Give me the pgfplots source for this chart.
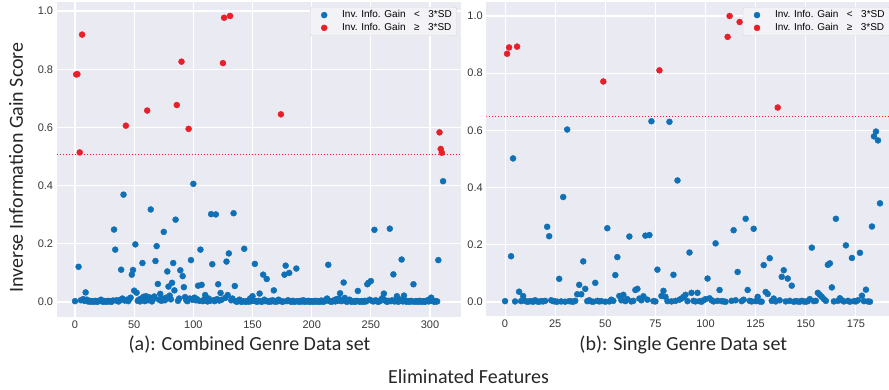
\documentclass[border=0pt]{standalone}
\usepackage{fontspec}
\setmainfont{Liberation Sans}
\newfontfamily\labfont{Carlito}
\usepackage{pgfplots}
\pgfplotsset{compat=1.18}
\definecolor{bgc}{HTML}{EAEAF2}
\definecolor{cblue}{RGB}{14,112,182}
\definecolor{cred}{RGB}{232,30,40}
\definecolor{legbg}{HTML}{F3F3F7}
\definecolor{legdr}{HTML}{D4D4DA}
\definecolor{tickc}{HTML}{363636}
\pgfplotsset{
  sbstyle/.style={
    scale only axis,
    axis background/.style={fill=bgc},
    axis line style={draw=none},
    major tick style={draw=none},
    grid=major,
    major grid style={white, line width=1.1pt},
    /pgf/number format/assume math mode=true,
    /pgf/number format/fixed,
    /pgf/number format/fixed zerofill,
    ticklabel style={font=\fontsize{11}{13}\selectfont, text=tickc},
    yticklabel style={/pgf/number format/precision=1},
    ytick={0,0.2,0.4,0.6,0.8,1.0},
    xticklabel style={/pgf/number format/precision=0, /pgf/number format/fixed zerofill=false},
    legend cell align=left,
    legend image code/.code={\path[draw=none,fill=none] (-11pt,0pt) (16pt,0pt); \draw[##1] plot coordinates {(0pt,0pt)};},
    legend style={fill=legbg, draw=legdr, rounded corners=2pt, font=\fontsize{10}{12}\selectfont,
      row sep=0pt, inner xsep=3pt, inner ysep=1.5pt},
  },
  bl/.style={only marks, mark=*, mark size=3pt, mark options={draw=cblue, fill=cblue}},
  rd/.style={only marks, mark=*, mark size=3pt, mark options={draw=cred, fill=cred}},
  thr/.style={cred, line width=1pt, dash pattern=on 0.9pt off 2.1pt, forget plot},
}
\newcommand{\lta}{Inv. Info. Gain\hspace{0.85em}<\hspace{0.85em}3*SD}
\newcommand{\ltb}{Inv. Info. Gain\hspace{0.85em}≥\hspace{0.85em}3*SD}
\begin{document}
\begin{tikzpicture}[x=1pt,y=1pt]
\useasboundingbox (0,0) rectangle (889,389);
\clip (0,0) rectangle (889,389);
% ---------------- left panel ----------------
\begin{axis}[sbstyle,
  at={(56.6pt,72pt)}, anchor=south west,
  width=404.8pt, height=315pt,
  xmin=-15.55, xmax=326.5, ymin=-0.0515, ymax=1.031,
  xtick={0,50,100,150,200,250,300},
  legend style={at={(0.989,0.984)}, anchor=north east},
]
\addplot[thr] coordinates {(-15.55,0.506)(326.5,0.506)};
\addplot[bl] coordinates {
(0,0.003)(3,0.121)(5,0.006)(7,0.010)(8,0.004)(9,0.033)(10,0.008)(11,0.002)(12,0.004)(13,0.001)
(14,0.003)(15,0.002)(16,0.001)(17,0.004)(18,0.002)(19,0.001)(20,0.003)(21,0.005)(22,0.008)(23,0.002)
(24,0.001)(25,0.003)(26,0.002)(27,0.001)(28,0.004)(29,0.002)(30,0.003)(31,0.001)(32,0.005)(33,0.249)
(34,0.180)(35,0.006)(36,0.003)(37,0.002)(38,0.007)(39,0.111)(40,0.012)(41,0.369)(42,0.005)(44,0.008)
(45,0.003)(46,0.010)(47,0.015)(48,0.094)(49,0.110)(50,0.039)(51,0.198)(52,0.032)(53,0.004)(54,0.008)
(55,0.002)(56,0.012)(57,0.134)(58,0.018)(59,0.003)(60,0.020)(62,0.006)(63,0.016)(64,0.318)(65,0.002)
(66,0.010)(67,0.019)(68,0.141)(69,0.192)(70,0.062)(71,0.008)(72,0.028)(73,0.004)(74,0.012)(75,0.241)
(76,0.006)(77,0.015)(78,0.105)(79,0.053)(80,0.022)(81,0.009)(82,0.066)(83,0.134)(84,0.040)(85,0.283)
(87,0.004)(88,0.012)(89,0.109)(91,0.089)(92,0.051)(93,0.017)(94,0.006)(95,0.003)(97,0.012)(98,0.144)
(99,0.008)(100,0.406)(101,0.015)(102,0.006)(103,0.010)(104,0.056)(105,0.004)(106,0.180)(107,0.059)(108,0.003)
(109,0.008)(110,0.024)(111,0.005)(112,0.002)(113,0.012)(114,0.004)(115,0.302)(116,0.130)(117,0.006)(118,0.003)
(119,0.301)(120,0.010)(121,0.061)(122,0.005)(123,0.031)(124,0.008)(127,0.014)(128,0.139)(129,0.024)(130,0.167)
(132,0.006)(133,0.012)(134,0.305)(135,0.055)(136,0.002)(137,0.001)(138,0.004)(139,0.008)(140,0.002)(141,0.001)
(142,0.003)(143,0.183)(144,0.001)(145,0.002)(146,0.004)(147,0.001)(148,0.012)(149,0.003)(150,0.020)(151,0.005)
(152,0.131)(153,0.002)(154,0.001)(155,0.004)(156,0.029)(157,0.002)(158,0.001)(159,0.094)(160,0.008)(161,0.003)
(162,0.079)(163,0.002)(164,0.001)(165,0.004)(166,0.002)(167,0.006)(168,0.040)(169,0.001)(170,0.003)(171,0.002)
(172,0.008)(173,0.004)(175,0.001)(176,0.002)(177,0.094)(178,0.125)(179,0.003)(180,0.006)(181,0.100)(182,0.002)
(183,0.001)(184,0.004)(185,0.002)(186,0.001)(187,0.115)(188,0.003)(189,0.002)(190,0.001)(191,0.004)(192,0.002)
(193,0.006)(194,0.001)(195,0.003)(196,0.002)(197,0.004)(198,0.001)(199,0.002)(200,0.003)(201,0.001)(202,0.002)
(203,0.004)(204,0.001)(205,0.003)(206,0.002)(207,0.001)(208,0.005)(209,0.002)(210,0.001)(211,0.003)(212,0.008)
(213,0.012)(214,0.128)(215,0.003)(216,0.002)(217,0.001)(218,0.004)(219,0.006)(220,0.002)(221,0.010)(222,0.004)
(223,0.012)(224,0.030)(225,0.003)(226,0.006)(227,0.067)(228,0.014)(229,0.002)(230,0.001)(231,0.004)(232,0.008)
(233,0.002)(234,0.001)(235,0.003)(236,0.002)(237,0.001)(238,0.004)(239,0.038)(240,0.002)(241,0.001)(242,0.003)
(243,0.002)(244,0.001)(245,0.004)(246,0.002)(247,0.061)(248,0.066)(249,0.008)(250,0.072)(251,0.004)(252,0.002)
(253,0.248)(254,0.006)(255,0.003)(256,0.001)(257,0.002)(258,0.004)(259,0.010)(260,0.014)(261,0.029)(262,0.006)
(263,0.002)(264,0.001)(265,0.004)(266,0.252)(267,0.003)(268,0.006)(269,0.095)(270,0.002)(271,0.004)(272,0.020)
(273,0.001)(274,0.003)(275,0.008)(276,0.146)(277,0.002)(278,0.022)(279,0.004)(280,0.001)(281,0.003)(282,0.002)
(283,0.001)(284,0.004)(285,0.002)(286,0.061)(287,0.001)(288,0.003)(289,0.002)(290,0.001)(291,0.004)(292,0.002)
(293,0.001)(294,0.003)(295,0.002)(296,0.001)(297,0.004)(298,0.006)(299,0.002)(300,0.010)(301,0.015)(302,0.004)
(303,0.002)(304,0.001)(305,0.003)(306,0.002)(307,0.144)(311,0.415)
};
\addlegendentry{\lta}
\addplot[rd] coordinates {
(1,0.782)(2,0.783)(4,0.514)(6,0.919)(43,0.606)(61,0.658)(86,0.677)(90,0.826)(96,0.595)
(125,0.821)(126,0.977)(131,0.983)(174,0.645)(308,0.583)(309,0.526)(310,0.513)
};
\addlegendentry{\ltb}
\end{axis}
% ---------------- right panel ----------------
\begin{axis}[sbstyle,
  at={(486.3pt,72.7pt)}, anchor=south west,
  width=402.7pt, height=314.6pt,
  xmin=-9.35, xmax=191.5, ymin=-0.05, ymax=1.05,
  xtick={0,25,50,75,100,125,150,175},
  legend style={at={(0.637,0.983)}, anchor=north west},
]
\addplot[thr] coordinates {(-9.35,0.647)(191.5,0.647)};
\addplot[bl] coordinates {
(0,0.003)(3,0.160)(4,0.502)(5,0.002)(7,0.036)(8,0.003)(9,0.021)(10,0.004)(11,0.001)(12,0.002)
(13,0.003)(14,0.001)(15,0.006)(16,0.002)(17,0.001)(18,0.003)(19,0.002)(20,0.004)(21,0.263)(22,0.230)
(23,0.006)(24,0.003)(25,0.002)(26,0.001)(27,0.081)(28,0.002)(29,0.367)(30,0.001)(31,0.603)(32,0.003)
(33,0.002)(34,0.001)(35,0.004)(36,0.027)(37,0.060)(38,0.027)(39,0.142)(40,0.046)(41,0.003)(42,0.006)
(43,0.002)(44,0.001)(45,0.067)(46,0.004)(47,0.002)(48,0.003)(50,0.001)(51,0.258)(52,0.002)(53,0.008)
(54,0.004)(55,0.094)(56,0.157)(57,0.021)(58,0.006)(59,0.025)(60,0.003)(61,0.010)(62,0.229)(63,0.002)
(64,0.004)(65,0.042)(66,0.046)(67,0.012)(68,0.006)(69,0.020)(70,0.232)(71,0.008)(72,0.234)(73,0.632)
(74,0.003)(75,0.002)(76,0.113)(78,0.021)(79,0.039)(80,0.018)(81,0.003)(82,0.630)(83,0.002)(84,0.095)
(85,0.004)(86,0.425)(87,0.008)(88,0.012)(89,0.018)(90,0.025)(91,0.003)(92,0.173)(93,0.032)(94,0.004)
(95,0.002)(96,0.032)(97,0.003)(98,0.001)(99,0.006)(100,0.010)(101,0.082)(102,0.013)(103,0.006)(104,0.002)
(105,0.205)(106,0.004)(107,0.042)(108,0.003)(109,0.002)(110,0.001)(113,0.004)(114,0.251)(115,0.006)(116,0.105)
(118,0.003)(119,0.008)(120,0.291)(121,0.042)(122,0.004)(123,0.002)(124,0.256)(125,0.003)(126,0.018)(127,0.002)
(128,0.001)(129,0.129)(130,0.035)(131,0.028)(132,0.153)(133,0.004)(134,0.012)(135,0.002)(137,0.006)(138,0.088)
(139,0.111)(140,0.002)(141,0.082)(142,0.004)(143,0.057)(144,0.001)(145,0.003)(146,0.002)(147,0.001)(148,0.004)
(149,0.002)(150,0.001)(151,0.003)(152,0.010)(153,0.190)(154,0.003)(155,0.004)(156,0.032)(157,0.025)(158,0.018)
(159,0.010)(160,0.004)(161,0.130)(162,0.135)(163,0.051)(164,0.002)(165,0.291)(166,0.004)(167,0.013)(168,0.006)
(169,0.002)(170,0.198)(171,0.004)(172,0.001)(173,0.154)(174,0.003)(175,0.002)(176,0.006)(177,0.172)(178,0.022)
(179,0.003)(180,0.043)(181,0.002)(182,0.001)(183,0.264)(184,0.579)(185,0.596)(186,0.565)(187,0.345)
};
\addlegendentry{\lta}
\addplot[rd] coordinates {
(1,0.868)(2,0.890)(6,0.893)(49,0.771)(77,0.810)(111,0.927)(112,1.000)(117,0.979)(136,0.680)
};
\addlegendentry{\ltb}
\end{axis}
% ---------------- labels ----------------
\node[rotate=90, font=\labfont\fontsize{20}{24}\selectfont, text=black!85] at (16,221.5) {Inverse Information Gain Score};
\node[font=\labfont\fontsize{20}{24}\selectfont, text=black!85] at (249.5,44) {(a): Combined Genre Data set};
\node[font=\labfont\fontsize{20}{24}\selectfont, text=black!85] at (683.3,44) {(b): Single Genre Data set};
\node[font=\labfont\fontsize{20}{24}\selectfont, text=black!85, anchor=base] at (468.5,6) {Eliminated Features};
\end{tikzpicture}
\end{document}
